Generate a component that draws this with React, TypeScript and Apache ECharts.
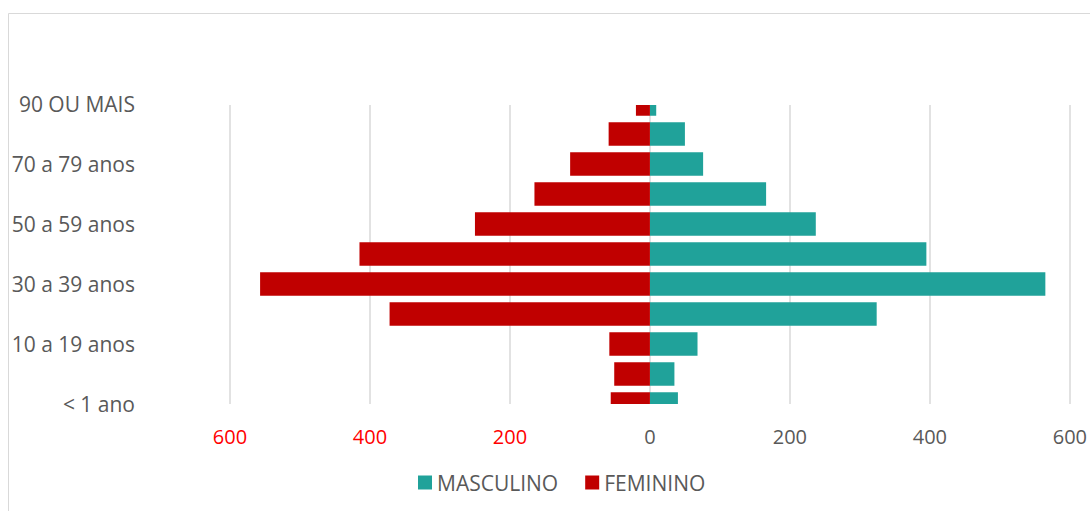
import React, { useEffect, useRef } from "react";
import * as echarts from "echarts";

const categories = [
  "< 1 ano",
  "1 a 9 anos",
  "10 a 19 anos",
  "20 a 29 anos",
  "30 a 39 anos",
  "40 a 49 anos",
  "50 a 59 anos",
  "60 a 69 anos",
  "70 a 79 anos",
  "80 a 89 anos",
  "90 OU MAIS",
];
const masculino = [40, 35, 68, 324, 565, 395, 237, 166, 76, 50, 9];
const feminino = [56, 51, 58, 372, 557, 415, 250, 165, 114, 59, 20];

const FONT = "'Open Sans', 'Noto Sans', sans-serif";
const GRAY = "#595959";

export default function App() {
  const ref = useRef<HTMLDivElement>(null);
  useEffect(() => {
    if (!ref.current) return;
    const chart = echarts.init(ref.current, undefined, { renderer: "svg" });
    chart.setOption({
      animation: false,
      backgroundColor: "#ffffff",
      textStyle: { fontFamily: FONT },
      graphic: [
        {
          type: "rect",
          shape: { x: 8.5, y: 13.5, width: 1200, height: 600 },
          style: { fill: "none", stroke: "#D9D9D9", lineWidth: 1 },
          silent: true,
          z: -1,
        },
        // plot-area clipping of the edge bars (Excel "on tick marks" axis)
        {
          type: "rect",
          shape: { x: 225, y: 85, width: 850, height: 20 },
          style: { fill: "#ffffff" },
          silent: true,
          z: 100,
        },
        {
          type: "rect",
          shape: { x: 225, y: 404, width: 850, height: 15 },
          style: { fill: "#ffffff" },
          silent: true,
          z: 100,
        },
      ],
      legend: {
        data: ["MASCULINO", "FEMININO"],
        left: 413,
        top: 467,
        icon: "rect",
        itemWidth: 14,
        itemHeight: 14,
        itemGap: 27,
        textStyle: { color: GRAY, fontSize: 21, fontFamily: FONT },
      },
      grid: { left: 230, right: 19, top: 104, bottom: 107, containLabel: false },
      xAxis: {
        type: "value",
        min: -600,
        max: 600,
        interval: 200,
        axisLine: { show: false },
        axisTick: { show: false },
        splitLine: { show: true, lineStyle: { color: "#D9D9D9", width: 1.5 } },
        axisLabel: {
          margin: 22,
          fontSize: 20,
          fontFamily: FONT,
          formatter: (v: number) => String(Math.abs(v)),
          color: (v: any) => (Number(v) < 0 ? "#FF0000" : GRAY),
        },
      },
      yAxis: {
        type: "category",
        data: categories,
        boundaryGap: false,
        axisLine: { show: false },
        axisTick: { show: false },
        splitLine: { show: false },
        axisLabel: {
          interval: 1,
          margin: 95,
          fontSize: 21,
          fontFamily: FONT,
          color: GRAY,
          align: "right",
        },
      },
      series: [
        {
          name: "MASCULINO",
          type: "bar",
          stack: "total",
          barWidth: 23.5,
          itemStyle: { color: "#20A29A" },
          data: masculino,
        },
        {
          name: "FEMININO",
          type: "bar",
          stack: "total",
          barWidth: 23.5,
          itemStyle: { color: "#C00000" },
          data: feminino.map((v) => -v),
        },
      ],
    });
    return () => chart.dispose();
  }, []);
  return (
    <div
      ref={ref}
      style={{ position: "absolute", left: 0, top: 0, width: 1090, height: 511 }}
    />
  );
}
